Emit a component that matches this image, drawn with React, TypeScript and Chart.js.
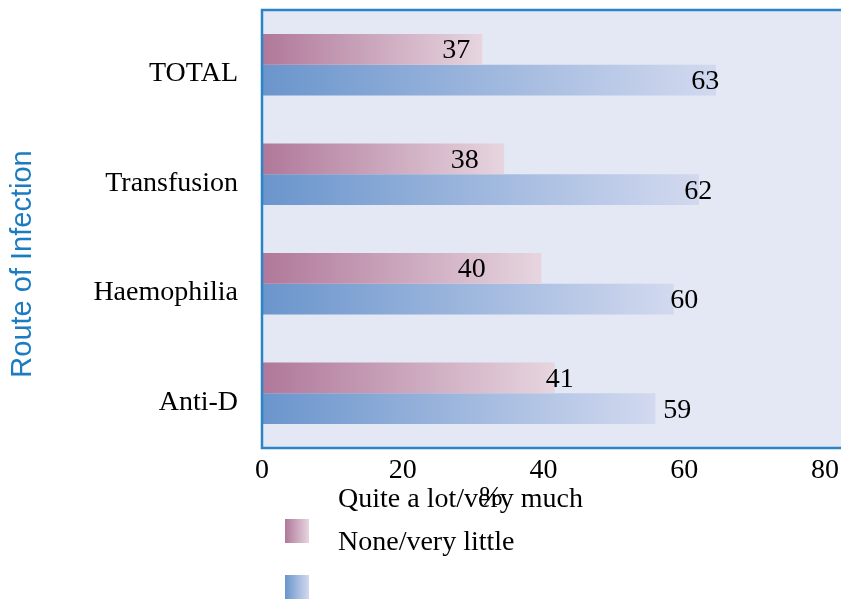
import React, { useEffect, useRef } from "react";
import { Chart, registerables } from "chart.js";

Chart.register(...registerables);

// ---- data ----
const categories = ["TOTAL", "Transfusion", "Haemophilia", "Anti-D"];
const seriesNames = ["Quite a lot/very much", "None/very little"];
// bar lengths as drawn (in % units of the x axis)
const quiteALot = [31.3, 34.4, 39.7, 41.6];
const noneLittle = [64.5, 62.1, 58.5, 55.9];
// printed value labels
const quiteALotLabels = ["37", "38", "40", "41"];
const noneLittleLabels = ["63", "62", "60", "59"];
// x-axis value where each "Quite a lot" label is printed
const quiteALotLabelAt = [27.6, 28.8, 29.8, 42.3];
const xTicks = [0, 20, 40, 60, 80];
const yTitle = "Route of Infection";
const xTitle = "%";

const SERIF = "'Liberation Serif', 'Times New Roman', serif";
const SANS = "'Liberation Sans', Arial, sans-serif";
const PINK = ["#b0789a", "#e6d5df"];
const BLUE = ["#6a95cc", "#d2d9ef"];
const BG = "#e4e7f4";
const FRAME = "#2a84c6";

function barGradient(ctx: any, stops: string[]) {
  const chart = ctx.chart;
  const xs = chart.scales && chart.scales.x;
  if (!chart.chartArea || !xs || ctx.type !== "data" || typeof ctx.raw !== "number") return stops[0];
  const x0 = xs.getPixelForValue(0);
  const x1 = xs.getPixelForValue(ctx.raw);
  const g = chart.ctx.createLinearGradient(x0, 0, x1, 0);
  g.addColorStop(0, stops[0]);
  g.addColorStop(1, stops[1]);
  return g;
}

const decor = {
  id: "decor",
  beforeDatasetsDraw(chart: any) {
    const { ctx, chartArea } = chart;
    ctx.save();
    ctx.fillStyle = BG;
    ctx.fillRect(chartArea.left, chartArea.top, chart.width - chartArea.left, chartArea.bottom - chartArea.top);
    ctx.restore();
  },
  afterDatasetsDraw(chart: any) {
    const { ctx, chartArea } = chart;
    const xs = chart.scales.x;
    ctx.save();
    // frame: left, top, bottom
    ctx.strokeStyle = FRAME;
    ctx.lineWidth = 2.5;
    ctx.beginPath();
    ctx.moveTo(chart.width, chartArea.top);
    ctx.lineTo(chartArea.left, chartArea.top);
    ctx.lineTo(chartArea.left, chartArea.bottom);
    ctx.lineTo(chart.width, chartArea.bottom);
    ctx.stroke();

    // value labels
    ctx.fillStyle = "#000";
    ctx.font = `28px ${SERIF}`;
    ctx.textAlign = "center";
    ctx.textBaseline = "alphabetic";
    const m0 = chart.getDatasetMeta(0);
    const m1 = chart.getDatasetMeta(1);
    m0.data.forEach((el: any, i: number) => {
      ctx.fillText(quiteALotLabels[i], xs.getPixelForValue(quiteALotLabelAt[i]), el.y + 9);
    });
    m1.data.forEach((el: any, i: number) => {
      ctx.fillText(noneLittleLabels[i], xs.getPixelForValue(Number(noneLittleLabels[i])), el.y + 9);
    });

    // y-axis title
    ctx.save();
    ctx.translate(23, 264);
    ctx.rotate(-Math.PI / 2);
    ctx.fillStyle = "#1b7cc2";
    ctx.font = `29px ${SANS}`;
    ctx.textAlign = "center";
    ctx.textBaseline = "middle";
    ctx.fillText(yTitle, 0, 0);
    ctx.restore();

    // legend
    const items = [
      { text: seriesNames[0], stops: PINK, ty: 507, sy: 519 },
      { text: seriesNames[1], stops: BLUE, ty: 550, sy: 575 },
    ];
    ctx.font = `28px ${SERIF}`;
    ctx.textAlign = "left";
    ctx.textBaseline = "alphabetic";
    items.forEach((it) => {
      ctx.fillStyle = "#000";
      ctx.fillText(it.text, 338, it.ty);
      const g = ctx.createLinearGradient(285, 0, 309, 0);
      g.addColorStop(0, it.stops[0]);
      g.addColorStop(1, it.stops[1]);
      ctx.fillStyle = g;
      ctx.fillRect(285, it.sy, 24, 24);
    });

    // x-axis title "%"
    ctx.fillStyle = "#000";
    ctx.textAlign = "center";
    ctx.fillText(xTitle, 491, 505);
    ctx.restore();
  },
};

export default function App() {
  const ref = useRef<HTMLCanvasElement | null>(null);
  useEffect(() => {
    if (!ref.current) return;
    const chart = new Chart(ref.current, {
      type: "bar",
      data: {
        labels: categories,
        datasets: [
          {
            label: seriesNames[0],
            data: quiteALot,
            backgroundColor: (c: any) => barGradient(c, PINK),
            borderWidth: 0,
            categoryPercentage: 0.56,
            barPercentage: 1,
          },
          {
            label: seriesNames[1],
            data: noneLittle,
            backgroundColor: (c: any) => barGradient(c, BLUE),
            borderWidth: 0,
            categoryPercentage: 0.56,
            barPercentage: 1,
          },
        ],
      },
      options: {
        indexAxis: "y",
        animation: false,
        responsive: false,
        devicePixelRatio: 1,
        layout: { padding: { top: 10, right: 16, left: 0, bottom: 0 } },
        plugins: {
          legend: { display: false },
          tooltip: { enabled: false },
          title: { display: false },
        },
        scales: {
          x: {
            type: "linear",
            min: 0,
            max: 80,
            afterBuildTicks: (s: any) => {
              s.ticks = xTicks.map((v) => ({ value: v }));
            },
            afterFit: (s: any) => {
              s.height = 151;
              s.paddingLeft = 0;
              s.paddingRight = 0;
              s.paddingTop = 0;
              s.paddingBottom = 0;
            },
            grid: { display: false, drawTicks: false },
            border: { display: false },
            ticks: { color: "#000", font: { family: SERIF, size: 28 }, padding: 6, maxRotation: 0 },
          },
          y: {
            type: "category",
            afterFit: (s: any) => {
              s.width = 262;
              s.paddingLeft = 0;
              s.paddingRight = 0;
              s.paddingTop = 0;
              s.paddingBottom = 0;
            },
            grid: { display: false, drawTicks: false },
            border: { display: false },
            ticks: { color: "#000", font: { family: SERIF, size: 28 }, padding: 24, labelOffset: 9 },
          },
        },
      },
      plugins: [decor],
    });
    return () => chart.destroy();
  }, []);
  return (
    <div style={{ position: "absolute", left: 0, top: 0, width: 841, height: 599, background: "#fff" }}>
      <canvas ref={ref} width={841} height={599} style={{ display: "block" }} />
    </div>
  );
}
